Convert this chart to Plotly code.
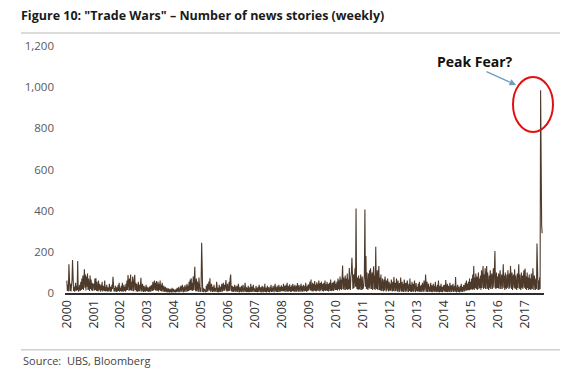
import pandas as pd
import plotly.graph_objects as go

# Weekly counts of "Trade Wars" news stories (per year)
y2000 = [60, 10, 40, 8, 140, 15, 10, 45, 8, 35, 60, 160, 20, 10, 30, 6, 25, 50, 10, 35, 15, 155, 12, 8, 25, 40, 10, 55, 15, 70, 20, 85, 15, 60, 115, 25, 90, 12, 80, 30, 95, 15, 70, 25, 10, 85, 20, 65, 12, 50, 10, 40]
y2001 = [45, 12, 70, 15, 72, 10, 55, 15, 8, 60, 12, 45, 10, 6, 40, 12, 55, 8, 35, 15, 10, 60, 8, 30, 10, 40, 6, 28, 15, 8, 45, 10, 6, 30, 8, 40, 20, 79, 12, 8, 25, 6, 35, 10, 5, 28, 8, 40, 10, 50, 6, 25]
y2002 = [10, 35, 6, 50, 12, 8, 40, 10, 30, 6, 45, 12, 60, 15, 87, 20, 10, 70, 15, 90, 12, 55, 10, 80, 18, 8, 65, 88, 15, 50, 8, 45, 12, 6, 55, 10, 40, 8, 35, 74, 12, 8, 45, 10, 5, 35, 8, 28, 6, 40, 10, 30]
y2003 = [8, 25, 5, 30, 8, 35, 6, 28, 40, 10, 55, 12, 45, 60, 15, 50, 10, 58, 20, 12, 55, 8, 45, 15, 60, 10, 40, 8, 50, 12, 6, 35, 10, 5, 30, 8, 4, 25, 6, 3, 22, 5, 3, 20, 4, 18, 3, 25, 5, 3, 20, 4]
y2004 = [4, 15, 3, 20, 5, 25, 6, 4, 30, 8, 4, 22, 35, 6, 25, 40, 8, 4, 30, 6, 38, 10, 5, 28, 45, 8, 35, 10, 55, 12, 65, 15, 72, 12, 50, 10, 80, 15, 60, 128, 15, 10, 70, 8, 55, 12, 6, 75, 10, 5, 25, 6]
y2005 = [244, 15, 5, 25, 4, 20, 10, 5, 4, 35, 6, 45, 8, 30, 55, 12, 72, 15, 6, 45, 10, 5, 30, 8, 40, 6, 25, 12, 5, 55, 10, 4, 25, 4, 40, 6, 30, 5, 25, 45, 6, 35, 50, 10, 40, 12, 55, 63, 15, 8, 45, 10]
y2006 = [15, 55, 10, 70, 90, 15, 8, 35, 6, 30, 5, 25, 40, 6, 30, 8, 35, 5, 28, 45, 6, 4, 30, 8, 5, 35, 4, 22, 40, 8, 5, 25, 50, 6, 30, 4, 25, 5, 35, 8, 4, 28, 6, 45, 5, 30, 6, 25, 40, 5, 22, 10]
y2007 = [6, 35, 5, 25, 4, 30, 6, 40, 8, 5, 28, 3, 25, 35, 6, 4, 30, 6, 45, 5, 25, 3, 22, 35, 5, 28, 6, 4, 30, 8, 40, 5, 25, 6, 35, 8, 4, 30, 45, 8, 28, 5, 35, 8, 6, 40, 10, 5, 30, 8, 38, 10]
y2008 = [30, 8, 45, 10, 35, 5, 28, 40, 8, 50, 12, 6, 35, 10, 42, 6, 30, 5, 38, 10, 45, 8, 32, 6, 40, 10, 5, 35, 8, 48, 12, 6, 38, 10, 5, 30, 45, 8, 35, 6, 28, 40, 8, 32, 10, 50, 12, 6, 35, 10, 42, 12]
y2009 = [35, 55, 12, 65, 15, 10, 50, 8, 45, 12, 58, 10, 40, 8, 52, 12, 45, 10, 60, 15, 8, 48, 12, 55, 15, 10, 45, 8, 50, 12, 60, 10, 42, 12, 55, 10, 45, 8, 38, 50, 10, 65, 15, 10, 48, 12, 55, 10, 42, 60, 15, 45]
y2010 = [15, 55, 12, 70, 18, 60, 12, 80, 20, 65, 15, 90, 133, 20, 75, 15, 60, 85, 15, 70, 20, 95, 15, 65, 20, 121, 25, 15, 80, 100, 171, 25, 20, 90, 25, 75, 120, 30, 411, 35, 20, 75, 15, 85, 20, 70, 15, 90, 25, 15, 80, 20]
y2011 = [25, 55, 90, 406, 30, 180, 20, 100, 25, 15, 95, 25, 110, 20, 120, 30, 20, 100, 15, 90, 130, 20, 85, 15, 225, 30, 20, 110, 15, 80, 131, 15, 75, 12, 90, 15, 10, 70, 15, 8, 65, 12, 80, 15, 8, 60, 12, 70, 10, 8, 55, 12]
y2012 = [45, 10, 65, 12, 8, 55, 10, 78, 12, 8, 50, 10, 70, 12, 6, 60, 10, 5, 48, 8, 75, 12, 6, 55, 8, 45, 5, 65, 10, 6, 50, 8, 40, 60, 8, 5, 45, 10, 70, 6, 40, 5, 55, 8, 45, 6, 38, 60, 8, 5, 48, 10]
y2013 = [30, 6, 45, 8, 55, 5, 35, 8, 40, 5, 50, 10, 6, 60, 10, 6, 90, 12, 6, 55, 5, 35, 45, 5, 30, 8, 50, 5, 38, 4, 28, 45, 6, 35, 5, 55, 8, 30, 4, 40, 6, 60, 8, 4, 35, 6, 45, 5, 30, 4, 25, 38]
y2014 = [8, 40, 5, 63, 10, 6, 45, 4, 35, 8, 5, 50, 8, 4, 38, 6, 30, 45, 5, 28, 35, 6, 78, 10, 4, 25, 40, 5, 30, 6, 4, 35, 8, 45, 6, 30, 5, 28, 40, 8, 35, 50, 10, 60, 12, 45, 15, 55, 12, 70, 15, 55]
y2015 = [20, 70, 15, 90, 20, 131, 15, 75, 25, 95, 20, 80, 15, 65, 100, 20, 70, 25, 85, 15, 110, 25, 75, 131, 20, 90, 25, 120, 20, 80, 131, 20, 100, 30, 15, 85, 25, 110, 20, 75, 95, 20, 70, 120, 25, 90, 204, 30, 20, 100, 25, 80]
y2016 = [25, 95, 20, 80, 110, 20, 75, 90, 20, 120, 140, 25, 85, 15, 100, 30, 20, 90, 25, 110, 30, 20, 95, 25, 131, 30, 20, 100, 15, 75, 90, 25, 115, 20, 85, 30, 15, 95, 25, 80, 140, 20, 90, 30, 15, 100, 25, 85, 20, 75, 110, 25]
y2017 = [119, 20, 80, 15, 100, 25, 75, 15, 90, 20, 70, 15, 95, 25, 20, 120, 20, 15, 85, 25, 15, 70, 20, 241, 30, 15, 60, 15, 75, 20, 985, 420, 330, 290]

years = list(range(2000, 2018))
yearly_values = [y2000, y2001, y2002, y2003, y2004, y2005, y2006, y2007, y2008,
                 y2009, y2010, y2011, y2012, y2013, y2014, y2015, y2016, y2017]
tick_labels = [str(y) for y in years]
y_ticks = [0, 200, 400, 600, 800, 1000, 1200]
y_tick_labels = ["0", "200", "400", "600", "800", "1,000", "1,200"]

title_text = 'Figure 10: "Trade Wars" \u2013 Number of news stories (weekly)'
source_text = "Source:  UBS, Bloomberg"
callout_text = "Peak Fear?"

dates = []
values = []
for yr, vals in zip(years, yearly_values):
    d = pd.date_range(f"{yr}-01-06", periods=len(vals), freq="7D")
    dates.extend(d)
    values.extend(vals)

fig = go.Figure()
fig.add_trace(go.Scatter(
    x=dates, y=values, mode="lines",
    line=dict(color="#4d3a2a", width=1.1),
    hoverinfo="skip", showlegend=False,
))

# page body has an 8px margin: lay out in reference pixels shifted by 8
OFF = 8
W, H = 570 - OFF, 375 - OFF
L = 65 - OFF
R = W - (544 - OFF)
T = 46 - OFF
B = H - (293.3 - OFF)
pw, ph = W - L - R, H - T - B

def px(x):
    return (x - OFF - L) / pw

def py(y):
    return (H - B - (y - OFF)) / ph

fig.update_layout(
    width=W, height=H,
    margin=dict(l=L, r=R, t=T, b=B, pad=0),
    paper_bgcolor="white", plot_bgcolor="white",
    font=dict(family="Open Sans, sans-serif", color="#404040"),
    title=dict(text="<b>" + title_text + "</b>", xref="container", yref="container",
               x=(21 - OFF) / W, y=1 - (16 - OFF) / H, xanchor="left", yanchor="middle",
               font=dict(size=12.5, color="#1a1a1a", family="Open Sans, sans-serif")),
    xaxis=dict(
        type="date",
        range=["1999-12-12", "2017-09-19"],
        tickvals=[pd.Timestamp(f"{y}-01-01") for y in years],
        ticktext=tick_labels,
        tickangle=-90,
        tickfont=dict(size=12.5, color="#333333"),
        showgrid=False, zeroline=False,
        showline=True, linecolor="#2e2e2e", linewidth=2,
        ticks="", ticklen=0,
    ),
    yaxis=dict(
        range=[0, 1200],
        tickvals=y_ticks, ticktext=y_tick_labels,
        tickfont=dict(size=11.5, color="#595959"),
        showgrid=False, zeroline=False, showline=False,
        ticks="", ticklabelstandoff=10,
    ),
    shapes=[
        dict(type="line", xref="paper", yref="paper",
             x0=px(21), x1=px(560), y0=py(33), y1=py(33),
             line=dict(color="#cfcfcf", width=1.5)),
        dict(type="line", xref="paper", yref="paper",
             x0=px(21), x1=px(560), y0=py(350), y1=py(350),
             line=dict(color="#cfcfcf", width=1.5)),
        dict(type="circle", xref="paper", yref="paper",
             x0=px(513), x1=px(553), y0=py(132), y1=py(77),
             line=dict(color="#e01010", width=2)),
    ],
    annotations=[
        dict(text="<b>" + callout_text + "</b>", xref="paper", yref="paper",
             x=px(474.5), y=py(62), xanchor="center", yanchor="middle",
             showarrow=False, font=dict(size=14, color="#111111")),
        dict(text="", xref="paper", yref="paper", x=px(516), y=py(85),
             showarrow=True, arrowhead=2, arrowsize=1, arrowwidth=1.3,
             arrowcolor="#6a9ec4", ax=-31, ay=-14),
        dict(text=source_text, xref="paper", yref="paper",
             x=px(21), y=py(361), xanchor="left", yanchor="middle",
             showarrow=False, font=dict(size=11, color="#444444")),
    ],
)

fig.write_html("out.html", config={"displayModeBar": False})
